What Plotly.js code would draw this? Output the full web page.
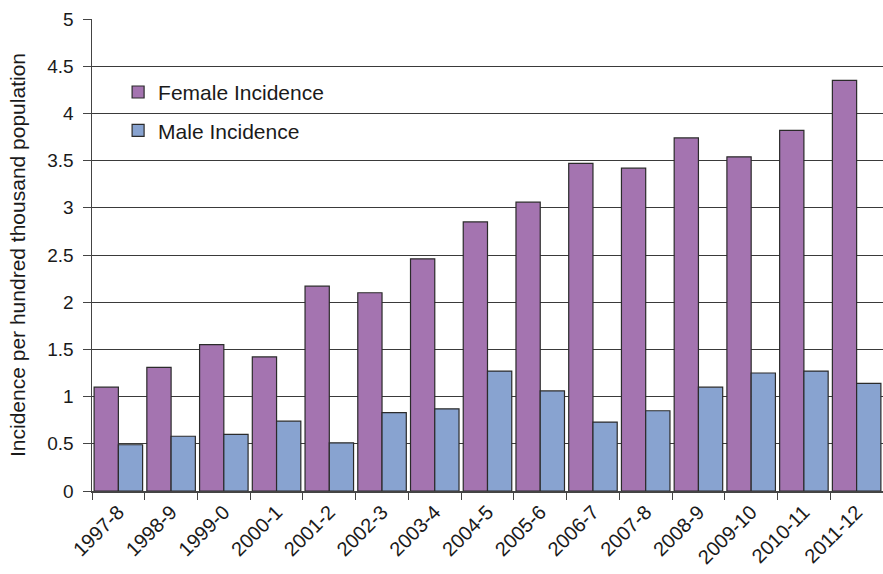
<!DOCTYPE html>
<html>
<head>
<meta charset="utf-8">
<script src="https://cdn.plot.ly/plotly-3.0.1.min.js"></script>
<style>html,body{margin:0;padding:0;background:#fff}#chart{width:883px;height:574px}</style>
</head>
<body>
<div id="chart"></div>
<script>
const categories = ["1997-8","1998-9","1999-0","2000-1","2001-2","2002-3","2003-4","2004-5","2005-6","2006-7","2007-8","2008-9","2009-10","2010-11","2011-12"];
const femaleIncidence = [1.10,1.31,1.55,1.42,2.17,2.10,2.46,2.85,3.06,3.47,3.42,3.74,3.54,3.82,4.35];
const maleIncidence = [0.49,0.58,0.60,0.74,0.51,0.83,0.87,1.27,1.06,0.73,0.85,1.10,1.25,1.27,1.14];
const yTicks = [0,0.5,1,1.5,2,2.5,3,3.5,4,4.5,5];
const yTickLabels = ["0","0.5","1","1.5","2","2.5","3","3.5","4","4.5","5"];

const font = "Liberation Sans, Arial, sans-serif";
const traces = [
  {type:"bar", name:"Female Incidence", x:categories, y:femaleIncidence, legendgroup:"f",
   marker:{color:"#A474B0", line:{color:"#2b2b2b", width:1.2}}},
  {type:"bar", name:"Male Incidence", x:categories, y:maleIncidence, legendgroup:"m",
   marker:{color:"#88A3D0", line:{color:"#2b2b2b", width:1.2}}}
];
const layout = {
  width:883, height:574,
  margin:{l:92, r:0, t:19, b:83},
  paper_bgcolor:"#fff", plot_bgcolor:"#fff",
  barmode:"group", bargap:0.08, bargroupgap:0,
  font:{family:font, color:"#1a1a1a", size:19},
  showlegend:true,
  legend:{x:0.033, y:0.888, xanchor:"left", yanchor:"top", bgcolor:"rgba(0,0,0,0)",
          traceorder:"grouped", font:{size:21, family:font, color:"#1a1a1a"}, tracegroupgap:8, itemwidth:30},
  xaxis:{type:"category", showgrid:false, tickson:"boundaries", ticks:"outside", ticklen:7,
         tickcolor:"#444", showline:true, linecolor:"#444", linewidth:1.5,
         tickangle:-45, tickfont:{size:20, family:font}, automargin:false},
  yaxis:{range:[0,5], tickvals:yTicks, ticktext:yTickLabels, ticks:"outside", ticklen:8,
         tickcolor:"#444", showline:true, linecolor:"#444", linewidth:1.5,
         showgrid:true, gridcolor:"#3a3a3a", gridwidth:1, zeroline:false,
         tickfont:{size:19, family:font}, ticklabelstandoff:5,
         title:{text:"Incidence per hundred thousand population", font:{size:21, family:font}, standoff:16},
         automargin:false}
};
Plotly.newPlot("chart", traces, layout, {displayModeBar:false, staticPlot:true});
</script>
</body>
</html>
